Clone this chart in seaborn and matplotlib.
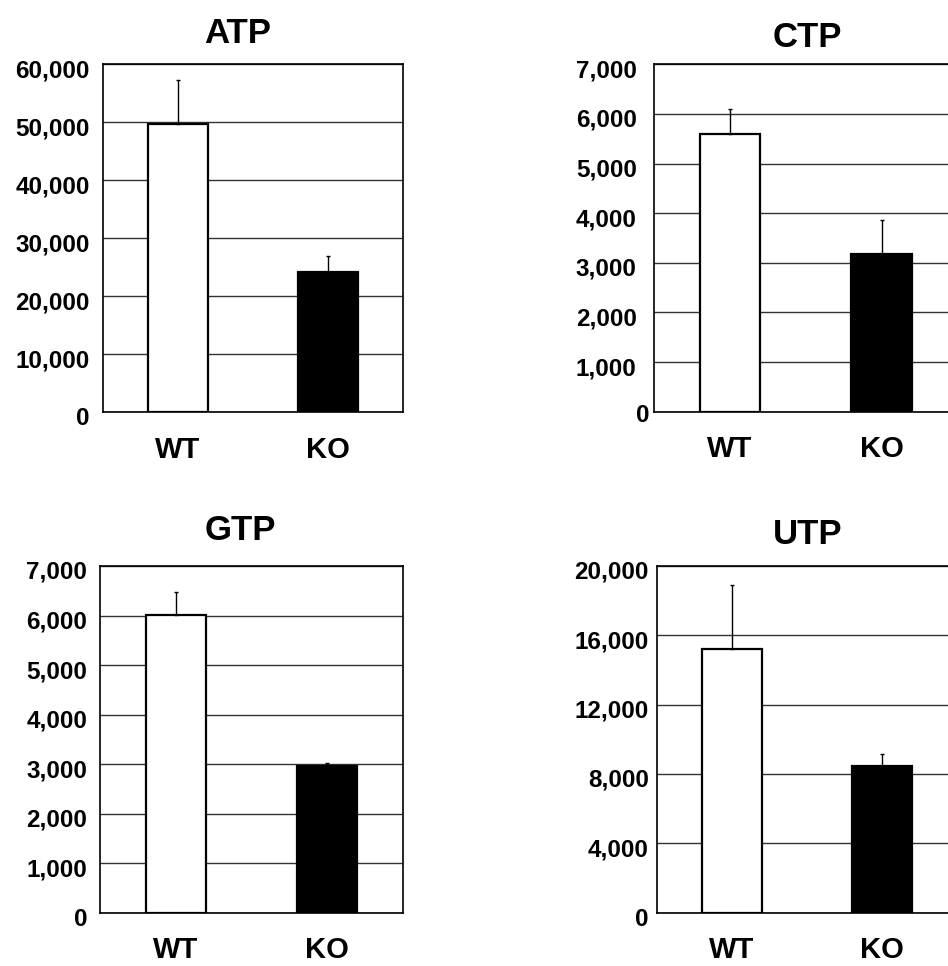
import numpy as np
import pandas as pd
import seaborn as sns
import matplotlib
matplotlib.use("Agg")
import matplotlib.pyplot as plt
from matplotlib.ticker import StrMethodFormatter
from matplotlib.transforms import ScaledTranslation

# values
groups = ["WT", "KO"]
panels = ["ATP", "CTP", "GTP", "UTP"]
atp_mean = [49700, 24100]
atp_err = [7540, 2740]
ctp_mean = [5600, 3170]
ctp_err = [500, 690]
gtp_mean = [6010, 2960]
gtp_err = [470, 55]
utp_mean = [15230, 8450]
utp_err = [3690, 690]
y_max = [60000, 7000, 7000, 20000]
y_step = [10000, 1000, 1000, 4000]

means = [atp_mean, ctp_mean, gtp_mean, utp_mean]
errs = [atp_err, ctp_err, gtp_err, utp_err]

# axes boxes in figure fractions [left, bottom, width, height]
boxes = [
    [0.1087, 0.5735, 0.3165, 0.3602],
    [0.6902, 0.5738, 0.3196, 0.3596],
    [0.1058, 0.0552, 0.3190, 0.3589],
    [0.6930, 0.0552, 0.3165, 0.3589],
]
title_x = [0.447, 0.506, 0.462, 0.503]
title_pad = [15, 12.5, 18.5, 16]
ylab_pad = [9.4, 12.7, 9.4, 6]

sns.set_style("white")
plt.rcParams["font.family"] = ["Liberation Sans", "DejaVu Sans"]
plt.rcParams["font.weight"] = "bold"
plt.rcParams["text.color"] = "black"
plt.rcParams["xtick.color"] = "black"
plt.rcParams["ytick.color"] = "black"

fig = plt.figure(figsize=(9.48, 9.66), dpi=100)
down = ScaledTranslation(0, -4 / 100, fig.dpi_scale_trans)

for i, name in enumerate(panels):
    ax = fig.add_axes(boxes[i])
    df = pd.DataFrame({"group": groups, "value": means[i]})
    sns.barplot(data=df, x="group", y="value", hue="group", palette=["white", "black"],
                edgecolor="black", linewidth=1.6, width=0.4, errorbar=None,
                legend=False, ax=ax, zorder=2)
    ax.errorbar(x=[0, 1], y=means[i], yerr=[[0, 0], errs[i]], fmt="none",
                ecolor="black", elinewidth=1.0, capsize=1.5, capthick=1.0, zorder=3)

    ax.set_xlim(-0.5, 1.5)
    ax.set_ylim(0, y_max[i])
    ax.set_yticks(np.arange(0, y_max[i] + 1, y_step[i]))
    ax.yaxis.set_major_formatter(StrMethodFormatter("{x:,.0f}"))
    ax.set_xticks([0, 1])
    ax.set_xticklabels(groups)
    ax.set_xticks([0.5], minor=True)
    ax.tick_params(axis="y", length=0, pad=ylab_pad[i], labelsize=17.5, labelcolor="black")
    ax.tick_params(axis="x", which="major", length=0, pad=17, labelsize=21, labelcolor="black")
    ax.tick_params(axis="x", which="minor", direction="in", length=2, width=0.8)
    for lab in ax.get_yticklabels() + ax.get_xticklabels():
        lab.set_fontweight("bold")

    ax.set_axisbelow(True)
    ax.yaxis.grid(True, color="#333333", linewidth=1.0)
    for sp in ax.spines.values():
        sp.set_visible(True)
        sp.set_color("black")
        sp.set_linewidth(1.2)

    ax.set_xlabel("")
    ax.set_ylabel("")
    ax.set_title(name, fontsize=25, fontweight="bold", color="black",
                 x=title_x[i], pad=title_pad[i])

    # nudge the y labels down a little, as in the original
    ylabs = ax.get_yticklabels()
    for lab in ylabs:
        lab.set_transform(lab.get_transform() + down)
    if name == "CTP":
        ylabs[0].set_transform(ylabs[0].get_transform()
                               + ScaledTranslation(0.13, 0.03, fig.dpi_scale_trans))

fig.savefig("out.png", dpi=100)
